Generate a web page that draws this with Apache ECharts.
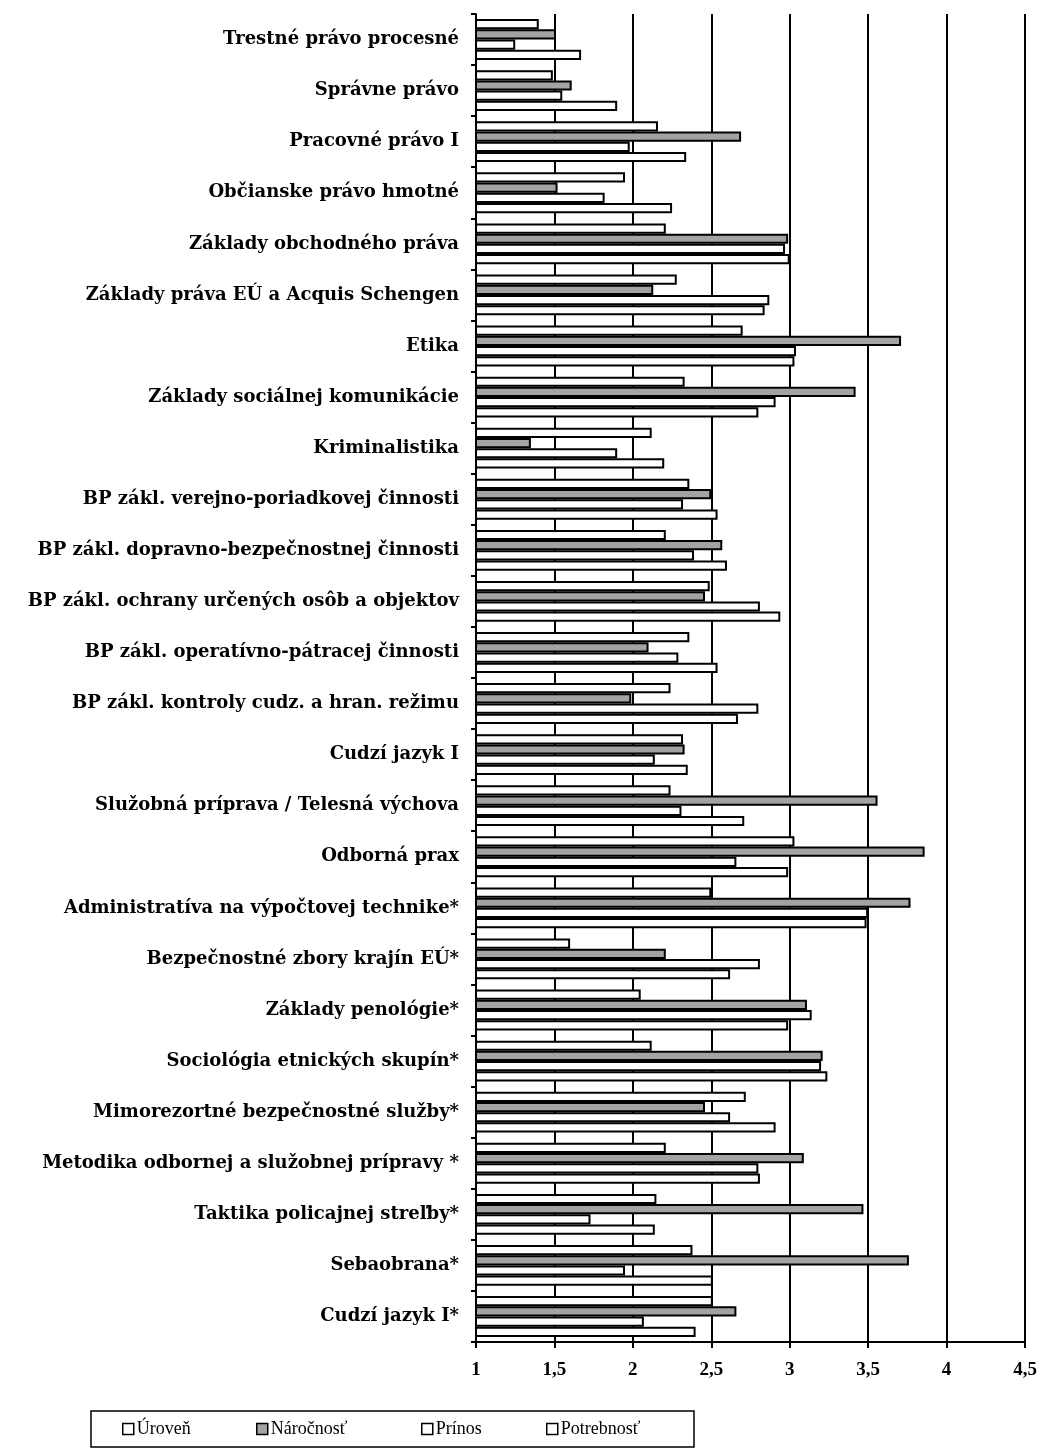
<!DOCTYPE html>
<html>
<head>
<meta charset="utf-8">
<script src="https://cdn.jsdelivr.net/npm/echarts@6/dist/echarts.min.js"></script>
<style>
  html, body { margin: 0; padding: 0; background: #fff; }
  #chart { width: 1042px; height: 1448px; }
</style>
</head>
<body>
<div id="chart"></div>
<script>
var categories = [
  'Trestné právo procesné',
  'Správne právo',
  'Pracovné právo I',
  'Občianske právo hmotné',
  'Základy obchodného práva',
  'Základy práva EÚ a Acquis Schengen',
  'Etika',
  'Základy sociálnej komunikácie',
  'Kriminalistika',
  'BP zákl. verejno-poriadkovej činnosti',
  'BP zákl. dopravno-bezpečnostnej činnosti',
  'BP zákl. ochrany určených osôb a objektov',
  'BP zákl. operatívno-pátracej činnosti',
  'BP zákl. kontroly cudz. a hran. režimu',
  'Cudzí jazyk I',
  'Služobná príprava / Telesná výchova',
  'Odborná prax',
  'Administratíva na výpočtovej technike*',
  'Bezpečnostné zbory krajín EÚ*',
  'Základy penológie*',
  'Sociológia etnických skupín*',
  'Mimorezortné bezpečnostné služby*',
  'Metodika odbornej a služobnej prípravy *',
  'Taktika policajnej streľby*',
  'Sebaobrana*',
  'Cudzí jazyk I*'
];
var uroven     = [1.40, 1.49, 2.16, 1.95, 2.21, 2.28, 2.70, 2.33, 2.12, 2.36, 2.21, 2.49, 2.36, 2.24, 2.32, 2.24, 3.03, 2.50, 1.60, 2.05, 2.12, 2.72, 2.21, 2.15, 2.38, 2.51];
var narocnost  = [1.51, 1.61, 2.69, 1.52, 2.99, 2.13, 3.71, 3.42, 1.35, 2.50, 2.57, 2.46, 2.10, 1.99, 2.33, 3.56, 3.86, 3.77, 2.21, 3.11, 3.21, 2.46, 3.09, 3.47, 3.76, 2.66];
var prinos     = [1.25, 1.55, 1.98, 1.82, 2.97, 2.87, 3.04, 2.91, 1.90, 2.32, 2.39, 2.81, 2.29, 2.80, 2.14, 2.31, 2.66, 3.50, 2.81, 3.14, 3.20, 2.62, 2.80, 1.73, 1.95, 2.07];
var potrebnost = [1.67, 1.90, 2.34, 2.25, 3.00, 2.84, 3.03, 2.80, 2.20, 2.54, 2.60, 2.94, 2.54, 2.67, 2.35, 2.71, 2.99, 3.49, 2.62, 2.99, 3.24, 2.91, 2.81, 2.14, 2.51, 2.40];
var seriesNames = ['Úroveň', 'Náročnosť', 'Prínos', 'Potrebnosť'];
var legendLeft = [122, 256, 421, 546];

var chart = echarts.init(document.getElementById('chart'));

function barSeries(name, data, fill) {
  return {
    name: name,
    type: 'bar',
    data: data,
    barGap: '0%',
    barCategoryGap: '20%',
    itemStyle: { color: fill, borderColor: '#000', borderWidth: 2 },
    emphasis: { disabled: true }
  };
}

// one legend per item, so the gaps can follow the picture
var legends = seriesNames.map(function (name, i) {
  return {
    left: legendLeft[i],
    top: 1420,
    padding: 0,
    data: [name],
    icon: 'rect',
    itemWidth: 11,
    itemHeight: 11,
    itemGap: 0,
    selectedMode: false,
    itemStyle: { borderColor: '#000', borderWidth: 1.5 },
    textStyle: { fontFamily: 'Liberation Serif', fontSize: 18, color: '#000', padding: [0, 0, 0, -2] }
  };
});

var option = {
  animation: false,
  backgroundColor: '#fff',
  grid: { left: 476, right: 17, top: 14, bottom: 106 },
  legend: legends,
  graphic: [{
    type: 'rect',
    shape: { x: 91, y: 1411, width: 603, height: 36 },
    style: { fill: 'none', stroke: '#000', lineWidth: 1.5 },
    silent: true
  }],
  xAxis: {
    type: 'value',
    min: 1,
    max: 4.5,
    interval: 0.5,
    axisLine: { show: true, lineStyle: { color: '#000', width: 2 } },
    axisTick: { show: true, length: 6, lineStyle: { color: '#000', width: 2 } },
    axisLabel: {
      margin: 19,
      color: '#000',
      fontFamily: 'Liberation Serif',
      fontWeight: 'bold',
      fontSize: 19,
      formatter: function (v) { return String(v).replace('.', ','); }
    },
    splitLine: { show: true, lineStyle: { color: '#000', width: 2 } }
  },
  yAxis: {
    type: 'category',
    inverse: true,
    data: categories,
    axisLine: { show: true, lineStyle: { color: '#000', width: 2 } },
    axisTick: { show: true, length: 5, lineStyle: { color: '#000', width: 2 } },
    axisLabel: {
      margin: 17,
      color: '#000',
      fontFamily: 'DejaVu Serif',
      fontWeight: 'bold',
      fontSize: 18
    }
  },
  series: [
    barSeries('Úroveň', uroven, '#fff'),
    barSeries('Náročnosť', narocnost, '#a3a3a3'),
    barSeries('Prínos', prinos, '#fff'),
    barSeries('Potrebnosť', potrebnost, '#fff')
  ]
};
chart.setOption(option);
</script>
</body>
</html>
